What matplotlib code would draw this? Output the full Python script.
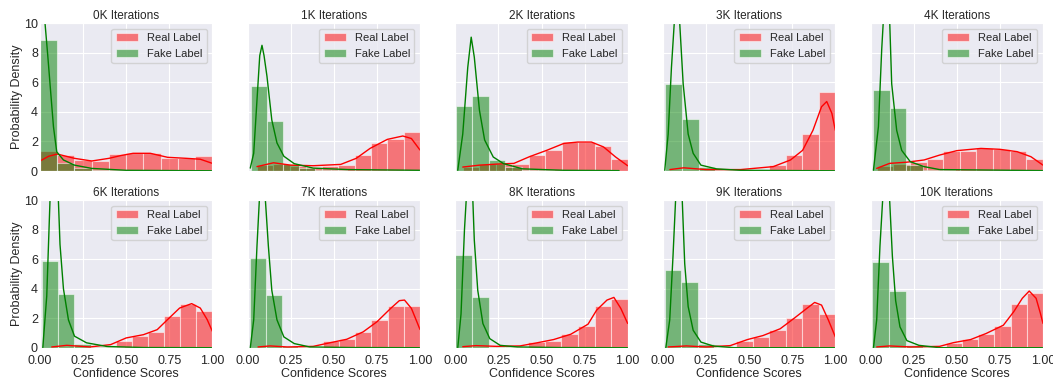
import numpy as np
import matplotlib
matplotlib.use('Agg')
import matplotlib.pyplot as plt
import seaborn as sns

sns.set_style('darkgrid')
plt.rcParams['font.family'] = ['Liberation Sans', 'DejaVu Sans']

titles = ['0K Iterations', '1K Iterations', '2K Iterations', '3K Iterations', '4K Iterations',
          '6K Iterations', '7K Iterations', '8K Iterations', '9K Iterations', '10K Iterations']

# histogram bins (density) for real labels: first edge, bin width, heights
real_start = [0.0, 0.054, 0.043, 0.04, 0.035, 0.068, 0.06, 0.04, 0.04, 0.06]
real_width = [0.1, 0.0946, 0.0957, 0.096, 0.0965, 0.0932, 0.094, 0.096, 0.096, 0.094]
real_heights = [
    [1.35, 1.08, 0.75, 0.70, 1.15, 1.24, 1.24, 0.86, 0.90, 1.04],
    [0.40, 0.50, 0.35, 0.25, 0.35, 0.40, 1.06, 1.92, 2.20, 2.66],
    [0.30, 0.45, 0.45, 0.50, 1.08, 1.40, 1.96, 1.96, 1.70, 0.80],
    [0.10, 0.10, 0.05, 0.05, 0.05, 0.05, 0.43, 1.06, 2.48, 5.35],
    [0.36, 0.50, 0.63, 0.80, 1.35, 1.38, 1.53, 1.49, 1.35, 0.81],
    [0.10, 0.10, 0.05, 0.05, 0.50, 0.79, 1.06, 2.14, 3.00, 2.48],
    [0.10, 0.05, 0.05, 0.03, 0.48, 0.63, 1.09, 1.88, 2.86, 2.86],
    [0.05, 0.10, 0.05, 0.05, 0.41, 0.48, 0.93, 1.50, 2.83, 3.31],
    [0.05, 0.10, 0.05, 0.05, 0.45, 0.75, 1.20, 2.00, 2.97, 2.29],
    [0.05, 0.05, 0.03, 0.03, 0.36, 0.59, 0.93, 1.47, 2.97, 3.70],
]

# histogram bins for fake labels
fake_start = [0.0, 0.019, 0.004, 0.01, 0.016, 0.01, 0.015, 0.0, 0.01, 0.01]
fake_width = [0.1, 0.093, 0.095, 0.098, 0.095, 0.095, 0.093, 0.097, 0.096, 0.097]
fake_heights = [
    [8.83, 0.56, 0.23, 0.10, 0.05, 0.05, 0.03, 0.03, 0.03, 0.03],
    [5.75, 3.40, 0.45, 0.18, 0.08, 0.05, 0.03, 0.03, 0.02, 0.02],
    [4.40, 5.10, 0.77, 0.27, 0.10, 0.05, 0.03, 0.03, 0.02, 0.02],
    [5.87, 3.54, 0.27, 0.10, 0.05, 0.03, 0.03, 0.02, 0.02, 0.02],
    [5.49, 4.29, 0.40, 0.10, 0.05, 0.03, 0.03, 0.02, 0.02, 0.02],
    [5.87, 3.68, 0.30, 0.08, 0.04, 0.03, 0.02, 0.02, 0.02, 0.02],
    [6.10, 3.60, 0.14, 0.05, 0.03, 0.02, 0.02, 0.02, 0.02, 0.02],
    [6.30, 3.47, 0.10, 0.05, 0.03, 0.02, 0.02, 0.02, 0.02, 0.02],
    [5.24, 4.44, 0.25, 0.06, 0.03, 0.02, 0.02, 0.02, 0.02, 0.02],
    [5.78, 3.88, 0.18, 0.05, 0.03, 0.02, 0.02, 0.02, 0.02, 0.02],
]

# kde curves
real_kde_x = [
    [0.0, 0.05, 0.1, 0.2, 0.3, 0.4, 0.47, 0.54, 0.64, 0.74, 0.85, 0.93, 1.0],
    [0.054, 0.15, 0.25, 0.38, 0.54, 0.63, 0.71, 0.81, 0.9, 0.95, 1.0],
    [0.043, 0.14, 0.24, 0.34, 0.43, 0.53, 0.63, 0.71, 0.79, 0.86, 0.93, 1.0],
    [0.04, 0.12, 0.25, 0.45, 0.64, 0.74, 0.81, 0.87, 0.92, 0.95, 0.98, 1.0],
    [0.035, 0.11, 0.21, 0.31, 0.4, 0.5, 0.64, 0.75, 0.85, 0.93, 1.0],
    [0.068, 0.155, 0.29, 0.41, 0.5, 0.6, 0.68, 0.74, 0.81, 0.88, 0.93, 0.97, 1.0],
    [0.06, 0.13, 0.23, 0.38, 0.48, 0.575, 0.67, 0.75, 0.83, 0.88, 0.91, 0.95, 1.0],
    [0.043, 0.12, 0.24, 0.375, 0.47, 0.57, 0.67, 0.77, 0.82, 0.88, 0.92, 0.96, 1.0],
    [0.03, 0.136, 0.25, 0.39, 0.49, 0.58, 0.68, 0.76, 0.835, 0.88, 0.92, 0.96, 1.0],
    [0.035, 0.11, 0.23, 0.4, 0.48, 0.58, 0.67, 0.77, 0.83, 0.88, 0.92, 0.96, 0.985, 1.0],
]
real_kde_y = [
    [0.68, 1.0, 1.15, 0.86, 0.68, 0.86, 1.05, 1.2, 1.2, 0.93, 0.86, 0.8, 0.52],
    [0.3, 0.56, 0.4, 0.36, 0.45, 0.86, 1.53, 2.14, 2.37, 2.2, 1.42],
    [0.27, 0.4, 0.47, 0.52, 0.97, 1.4, 1.87, 1.96, 1.96, 1.63, 0.95, 0.36],
    [0.1, 0.22, 0.1, 0.1, 0.3, 0.75, 1.4, 2.75, 4.35, 4.7, 3.9, 2.75],
    [0.18, 0.52, 0.6, 0.75, 1.08, 1.38, 1.53, 1.47, 1.31, 0.97, 0.4],
    [0.07, 0.18, 0.07, 0.23, 0.68, 0.9, 1.24, 1.92, 2.7, 3.0, 2.7, 1.92, 1.13],
    [0.07, 0.14, 0.07, 0.11, 0.36, 0.59, 1.09, 1.77, 2.68, 3.2, 3.24, 2.68, 1.25],
    [0.09, 0.16, 0.11, 0.14, 0.34, 0.57, 0.93, 1.61, 2.56, 3.24, 3.42, 2.68, 1.66],
    [0.07, 0.14, 0.07, 0.16, 0.57, 0.84, 1.3, 2.0, 2.68, 3.08, 2.9, 1.88, 0.75],
    [0.07, 0.14, 0.07, 0.11, 0.36, 0.57, 0.98, 1.54, 2.45, 3.36, 3.85, 3.36, 2.34, 1.66],
]
fake_kde_x = [
    [0.005, 0.029, 0.045, 0.058, 0.078, 0.097, 0.136, 0.2, 0.3, 0.5, 1.0],
    [0.015, 0.035, 0.054, 0.07, 0.083, 0.095, 0.112, 0.14, 0.17, 0.21, 0.27, 0.38, 0.58, 1.0],
    [0.014, 0.043, 0.072, 0.092, 0.11, 0.14, 0.17, 0.22, 0.28, 0.39, 0.63, 0.95],
    [0.01, 0.03, 0.049, 0.068, 0.083, 0.097, 0.117, 0.146, 0.175, 0.22, 0.31, 0.45, 1.0],
    [0.016, 0.045, 0.064, 0.08, 0.094, 0.108, 0.122, 0.151, 0.18, 0.23, 0.31, 0.4, 1.0],
    [0.016, 0.039, 0.058, 0.075, 0.09, 0.105, 0.116, 0.136, 0.165, 0.2, 0.27, 0.39, 0.6, 1.0],
    [0.015, 0.035, 0.054, 0.07, 0.085, 0.1, 0.12, 0.14, 0.17, 0.21, 0.27, 0.36, 0.6, 1.0],
    [0.014, 0.033, 0.053, 0.068, 0.083, 0.1, 0.11, 0.13, 0.16, 0.2, 0.26, 0.36, 0.6, 1.0],
    [0.016, 0.039, 0.058, 0.075, 0.092, 0.11, 0.126, 0.146, 0.175, 0.22, 0.29, 0.41, 0.6, 1.0],
    [0.016, 0.035, 0.054, 0.072, 0.09, 0.108, 0.126, 0.145, 0.17, 0.21, 0.28, 0.4, 0.6, 1.0],
]
fake_kde_y = [
    [16.0, 10.0, 7.8, 5.9, 3.0, 1.3, 0.75, 0.4, 0.18, 0.05, 0.02],
    [0.2, 1.2, 4.8, 7.8, 8.5, 7.8, 6.4, 3.45, 1.9, 1.0, 0.5, 0.2, 0.1, 0.05],
    [0.05, 2.5, 7.0, 9.05, 7.7, 4.1, 2.1, 0.95, 0.5, 0.15, 0.05, 0.03],
    [0.05, 2.5, 7.0, 10.5, 11.5, 10.0, 5.9, 2.5, 1.2, 0.4, 0.15, 0.05, 0.02],
    [0.05, 3.0, 8.2, 11.5, 12.0, 11.0, 5.9, 2.75, 1.4, 0.63, 0.3, 0.1, 0.03],
    [0.0, 3.5, 10.0, 12.5, 12.5, 10.5, 7.0, 4.0, 1.9, 0.8, 0.35, 0.1, 0.03, 0.02],
    [0.0, 1.9, 6.9, 10.5, 12.0, 10.5, 6.9, 3.9, 1.9, 0.75, 0.3, 0.07, 0.03, 0.02],
    [0.0, 2.3, 8.0, 11.0, 12.0, 10.5, 7.3, 3.9, 1.65, 0.63, 0.18, 0.07, 0.03, 0.02],
    [0.0, 1.9, 6.2, 10.5, 12.0, 10.5, 5.7, 2.8, 1.2, 0.4, 0.14, 0.02, 0.02, 0.02],
    [0.0, 1.9, 6.9, 10.5, 12.0, 10.5, 6.2, 3.2, 1.43, 0.5, 0.18, 0.02, 0.02, 0.02],
]

fig = plt.figure(figsize=(10.53, 3.79), dpi=100)
axes = fig.subplots(2, 5, sharex=True, sharey=True)
fig.subplots_adjust(left=0.038, right=0.9905, top=0.939, bottom=0.0818, wspace=0.205, hspace=0.196)

for i, ax in enumerate(axes.flat):
    n = len(real_heights[i])
    real_edges = real_start[i] + real_width[i] * np.arange(n)
    ax.bar(real_edges, real_heights[i], width=real_width[i], align='edge',
           color='red', alpha=0.5, edgecolor='white', linewidth=0.8, label='Real Label')
    n = len(fake_heights[i])
    fake_edges = fake_start[i] + fake_width[i] * np.arange(n)
    ax.bar(fake_edges, fake_heights[i], width=fake_width[i], align='edge',
           color='green', alpha=0.5, edgecolor='white', linewidth=0.8, label='Fake Label')
    ax.plot(real_kde_x[i], real_kde_y[i], color='red', linewidth=1)
    ax.plot(fake_kde_x[i], fake_kde_y[i], color='green', linewidth=1)

    ax.set_title(titles[i], fontsize=8.5, pad=3)
    ax.set_xlim(0, 1)
    ax.set_ylim(0, 10)
    ax.set_xticks([0, 0.25, 0.5, 0.75, 1.0])
    ax.set_yticks([0, 2, 4, 6, 8, 10])
    ax.tick_params(labelsize=9, length=0, colors='#262626')
    ax.tick_params(axis='y', pad=1.5)
    ax.tick_params(axis='x', pad=5)
    ax.legend(loc='upper right', fontsize=8)
    if i % 5 == 0:
        ax.set_ylabel('Probability Density', fontsize=9, labelpad=1)
    if i >= 5:
        ax.set_xlabel('Confidence Scores', fontsize=9, labelpad=1)

fig.savefig('out.png', dpi=100)
